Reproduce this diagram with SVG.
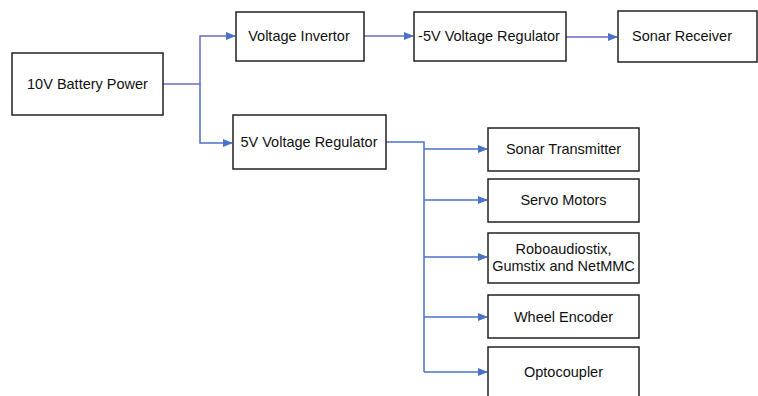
<svg xmlns="http://www.w3.org/2000/svg" width="758" height="396" viewBox="0 0 758 396">
<defs>
<marker id="ah" markerWidth="10" markerHeight="8" refX="9" refY="4" orient="auto" markerUnits="userSpaceOnUse">
<path d="M0,0 L10,4 L0,8 Z" fill="#4a72c8"/>
</marker>
<style>
.box{fill:#fff;stroke:#222;stroke-width:1.5}
.t{font-family:"Liberation Sans",Arial,sans-serif;font-size:14.5px;fill:#111;text-anchor:middle}
.c{fill:none;stroke:#4a72c8;stroke-width:1.5}
.cp{fill:none;stroke:#6a6ac4;stroke-width:1.5}
</style>
</defs>
<rect width="758" height="396" fill="#fff"/>
<g id="connectors">
<path class="cp" d="M163,84 H200 V36 H235" marker-end="url(#ah)"/>
<path class="c" d="M200,84 V143 H232" marker-end="url(#ah)"/>
<path class="cp" d="M364,36 H413" marker-end="url(#ah)"/>
<path class="cp" d="M566,37 H617" marker-end="url(#ah)"/>
<path class="c" d="M386,142 H424 V372"/>
<path class="c" d="M424,149 H487" marker-end="url(#ah)"/>
<path class="c" d="M424,200 H487" marker-end="url(#ah)"/>
<path class="c" d="M424,257 H487" marker-end="url(#ah)"/>
<path class="c" d="M424,317 H487" marker-end="url(#ah)"/>
<path class="c" d="M424,372 H487" marker-end="url(#ah)"/>
</g>
<g id="battery"><rect class="box" x="12" y="53" width="151" height="62"/><text class="t" x="87.5" y="89">10V Battery Power</text></g>
<g id="invertor"><rect class="box" x="236" y="12" width="128" height="49"/><text class="t" x="299" y="41">Voltage Invertor</text></g>
<g id="neg5v"><rect class="box" x="414" y="12" width="152" height="49"/><text class="t" x="489" y="41">-5V Voltage Regulator</text></g>
<g id="sonarrx"><rect class="box" x="618" y="11" width="139" height="51"/><text class="t" x="682" y="41">Sonar Receiver</text></g>
<g id="reg5v"><rect class="box" x="233" y="115" width="153" height="54"/><text class="t" x="309" y="147">5V Voltage Regulator</text></g>
<g id="sonartx"><rect class="box" x="488" y="128" width="151" height="43"/><text class="t" x="563.5" y="154">Sonar Transmitter</text></g>
<g id="servo"><rect class="box" x="488" y="179" width="151" height="43"/><text class="t" x="563.5" y="205">Servo Motors</text></g>
<g id="robo"><rect class="box" x="488" y="233" width="151" height="50"/><text class="t" x="563.5" y="254">Roboaudiostix,</text><text class="t" x="563.5" y="271">Gumstix and NetMMC</text></g>
<g id="wheel"><rect class="box" x="488" y="295" width="151" height="43"/><text class="t" x="563.5" y="322">Wheel Encoder</text></g>
<g id="opto"><rect class="box" x="488" y="347" width="151" height="52"/><text class="t" x="563.5" y="377">Optocoupler</text></g>
</svg>
